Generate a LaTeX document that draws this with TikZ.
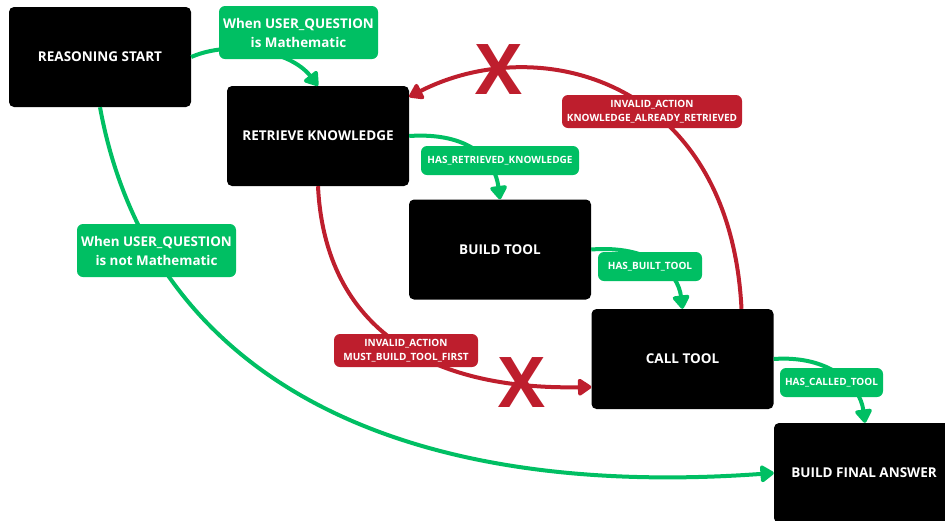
\documentclass[tikz,border=0pt]{standalone}
\usepackage{fontspec}
\setmainfont{Open Sans}
\usetikzlibrary{arrows.meta}
\definecolor{sgreen}{RGB}{0,191,99}
\definecolor{sred}{RGB}{190,30,45}
\begin{document}
\begin{tikzpicture}[x=1pt,y=-1pt,
  state/.style={fill=black, rounded corners=5pt, minimum width=182pt, minimum height=100pt,
    text=white, font=\bfseries\fontsize{13.5}{15}\selectfont, inner sep=0pt},
  biglab/.style={fill=sgreen, rounded corners=6pt, text=white, align=center,
    font=\bfseries\fontsize{13.4}{19}\selectfont, minimum width=159pt, minimum height=53pt, inner sep=0pt},
  smalllab/.style={fill=#1, rounded corners=6pt, text=white, align=center,
    font=\bfseries\fontsize{10}{14}\selectfont, inner sep=0pt},
  gline/.style={draw=sgreen, line width=4pt, -{Triangle[length=15pt,width=19pt,round]}},
  rline/.style={draw=sred, line width=4pt, -{Triangle[length=15pt,width=19pt,round]}},
  cross/.style={text=sred, font=\bfseries\fontsize{70}{70}\selectfont, inner sep=0pt}
]
\useasboundingbox (0,0) rectangle (945,520);
\clip (0,0) rectangle (945,520);

\node[state] (rs) at (100,57) {REASONING START};
\node[state] (rk) at (318,136) {RETRIEVE KNOWLEDGE};
\node[state] (bt) at (500,249.5) {BUILD TOOL};
\node[state] (ct) at (682.5,359) {CALL TOOL};
\node[state, minimum width=182pt] (bfa) at (865,473) {};
\node[text=white, font=\bfseries\fontsize{13.5}{15}\selectfont] (bfat) at (864,473) {BUILD FINAL ANSWER};

% green connectors
\draw[gline] (rs.east) .. controls (230,40) and (290,50) .. (rk.north);
\draw[gline] (rk.east) .. controls (470,132) and (495,160) .. (bt.north);
\draw[gline] (bt.east) .. controls (650,245) and (678,272) .. (ct.north);
\draw[gline] (ct.east) .. controls (830,355) and (860,385) .. (bfa.north);
\draw[gline] (rs.south) .. controls (150,380) and (400,500) .. (bfa.west);

% red connectors
\draw[rline] ([xshift=59pt]ct.north) .. controls (730,80) and (540,30) .. ([yshift=-11pt]rk.north east);
\draw[rline] (rk.south) .. controls (325,330) and (430,390) .. ([yshift=-28pt]ct.west);

% labels
\node[biglab] (l1) at (298.5,32.5) {When USER\_QUESTION\\is Mathematic};
\node[biglab] (l2) at (156.5,250.5) {When USER\_QUESTION\\is not Mathematic};
\node[smalllab=sgreen, minimum width=158pt, minimum height=29pt] (l3) at (500,160.5) {HAS\_RETRIEVED\_KNOWLEDGE};
\node[smalllab=sgreen, minimum width=104pt, minimum height=29pt] (l4) at (650,266.5) {HAS\_BUILT\_TOOL};
\node[smalllab=sgreen, minimum width=103pt, minimum height=29pt] (l5) at (831.5,382.5) {HAS\_CALLED\_TOOL};
\node[smalllab=sred, minimum width=180pt, minimum height=33pt] (l6) at (652,111.5) {INVALID\_ACTION\\KNOWLEDGE\_ALREADY\_RETRIEVED};
\node[smalllab=sred, minimum width=144pt, minimum height=33pt] (l7) at (406,350.5) {INVALID\_ACTION\\MUST\_BUILD\_TOOL\_FIRST};

% crosses
\node[cross] (x1) at (499,70) {X};
\node[cross] (x2) at (522,383) {X};
\end{tikzpicture}
\end{document}
